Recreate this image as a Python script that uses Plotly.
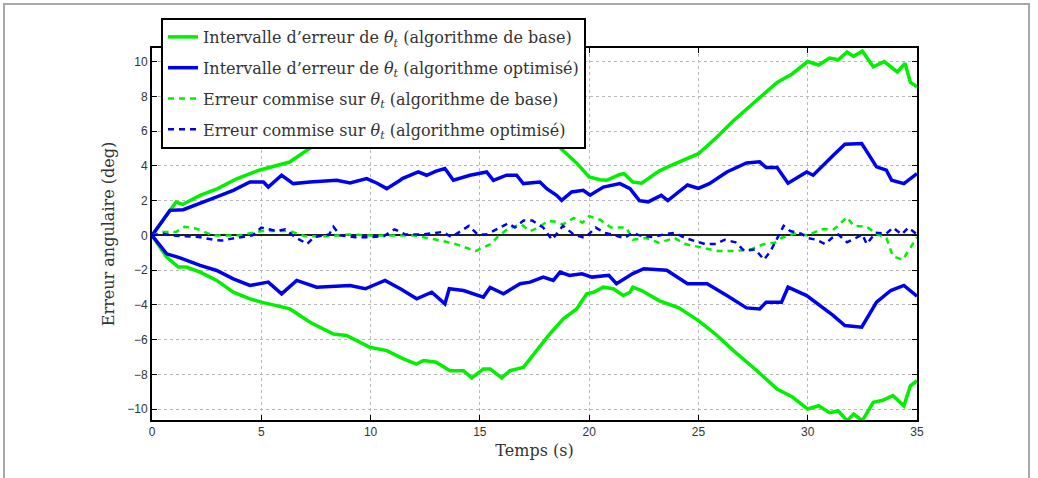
import plotly.graph_objects as go

# ---------------- data ----------------
t_green_up = [0, 0.5, 1.1, 1.4, 2.2, 3.0, 3.9, 4.9, 5.7, 6.3, 7.2, 8.3, 9.0, 10.0, 10.7, 11.5, 12.1,
              12.4, 13.0, 13.6, 14.3, 14.6, 15.2, 15.5, 16.0, 16.4, 17.0, 17.6, 18.2, 18.7, 19.4, 20.0,
              20.5, 20.8, 21.4, 21.6, 22.0, 22.4, 23.2, 23.6, 24.1, 25.0, 25.8, 26.6, 27.6, 28.6, 29.3,
              30.0, 30.5, 31.0, 31.4, 31.8, 32.1, 32.5, 33.0, 33.5, 34.1, 34.45, 34.7, 35.0]
green_up = [0, 0.86, 1.92, 1.78, 2.3, 2.69, 3.27, 3.75, 4.03, 4.22, 5.0, 5.67, 5.76, 6.44, 6.63, 7.1, 7.4,
            7.2, 7.3, 7.78, 7.78, 8.2, 7.68, 7.68, 8.2, 7.78, 7.59, 6.63, 5.67, 5.0, 4.2, 3.36,
            3.2, 3.17, 3.5, 3.55, 3.07, 3.0, 3.7, 3.94, 4.2, 4.7, 5.6, 6.6, 7.7, 8.8, 9.3,
            10.0, 9.8, 10.2, 10.1, 10.55, 10.3, 10.6, 9.7, 10.0, 9.4, 9.9, 8.8, 8.55]

t_green_lo = [0, 0.67, 1.2, 1.58, 2.2, 2.96, 3.72, 4.48, 5.0, 5.86, 6.31, 7.23, 8.3, 8.9, 9.97, 10.74,
              11.5, 12.1, 12.42, 13.0, 13.63, 14.25, 14.63, 15.16, 15.47, 16.0, 16.38, 16.99, 17.6, 18.2,
              18.82, 19.43, 19.89, 20.2, 20.65, 21.1, 21.56, 21.87, 22.0, 22.4, 23.2, 24.1, 25.0, 25.8,
              26.6, 27.6, 28.6, 29.3, 30.0, 30.5, 31.0, 31.4, 31.8, 32.1, 32.5, 33.0, 33.4, 33.9, 34.4,
              34.7, 35.0]
green_lo = [0, -1.25, -1.82, -1.82, -2.11, -2.59, -3.27, -3.65, -3.84, -4.13, -4.23, -5.0, -5.67, -5.76,
            -6.44, -6.63, -7.1, -7.4, -7.2, -7.3, -7.78, -7.78, -8.2, -7.68, -7.68, -8.2, -7.78, -7.59,
            -6.63, -5.67, -4.8, -4.23, -3.36, -3.27, -2.98, -3.07, -3.46, -3.27, -2.98, -3.17, -3.75,
            -4.17, -4.9, -5.7, -6.63, -7.7, -8.84, -9.3, -9.99, -9.8, -10.2, -10.1, -10.66, -10.28,
            -10.66, -9.6, -9.5, -9.22, -9.8, -8.65, -8.36]

t_blue_up = [0, 0.52, 0.82, 1.43, 2.2, 2.96, 3.72, 4.48, 5.1, 5.32, 5.93, 6.46, 7.23, 8.45, 9.06, 9.82,
             10.3, 10.74, 11.35, 11.45, 12.18, 12.56, 13.0, 13.4, 13.79, 14.55, 15.31, 15.62, 16.22,
             16.68, 16.99, 17.75, 18.06, 18.51, 18.74, 19.2, 19.73, 20.04, 20.65, 21.41, 21.87, 22.3,
             22.7, 23.3, 23.6, 24.5, 25.0, 25.5, 26.3, 27.2, 27.8, 28.1, 28.6, 29.1, 29.95, 30.25,
             31.16, 31.7, 32.47, 33.15, 33.6, 33.84, 34.4, 35.0]
blue_up = [0, 0.96, 1.44, 1.48, 1.83, 2.21, 2.59, 3.07, 3.07, 2.78, 3.46, 2.98, 3.07, 3.17, 3.02, 3.27,
           3.0, 2.69, 3.17, 3.27, 3.65, 3.46, 3.7, 3.85, 3.17, 3.46, 3.65, 3.17, 3.46,
           3.46, 2.98, 3.07, 2.69, 2.31, 2.02, 2.5, 2.59, 2.31, 2.78, 2.98, 2.69, 2.0,
           1.93, 2.3, 2.0, 2.9, 2.7, 2.98, 3.65, 4.17, 4.23, 3.9, 3.9, 3.0, 3.65, 3.46,
           4.6, 5.24, 5.28, 3.94, 3.75, 3.17, 2.98, 3.55]

t_blue_lo = [0, 0.67, 1.28, 2.2, 2.96, 3.72, 4.48, 5.32, 5.93, 6.62, 7.53, 9.06, 9.76, 10.66, 11.4,
             12.11, 12.8, 13.4, 13.6, 14.25, 15.16, 15.47, 16.08, 16.84, 17.3, 17.9, 18.36, 18.67, 19.1,
             19.67, 20.13, 20.9, 21.25, 21.5, 22.0, 22.5, 23.55, 24.5, 25.4, 26.3, 27.2, 27.8, 28.1,
             28.8, 29.1, 29.95, 31.16, 31.7, 32.47, 33.15, 33.8, 34.4, 35.0]
blue_lo = [0, -1.06, -1.29, -1.73, -2.02, -2.5, -2.88, -2.69, -3.36, -2.59, -2.98, -2.88, -3.07, -2.59,
           -3.1, -3.65, -3.27, -3.94, -3.07, -3.17, -3.55, -3.0, -3.36, -2.78, -2.69, -2.4, -2.59,
           -2.11, -2.3, -2.21, -2.4, -2.3, -2.78, -2.59, -2.2, -1.92, -2.0, -2.78, -2.78, -3.46,
           -4.17, -4.23, -3.84, -3.84, -2.98, -3.46, -4.6, -5.19, -5.28, -3.84, -3.17, -2.88, -3.5]

t_green_err = [0, 0.5, 1.1, 1.5, 2.0, 2.8, 4.0, 5.0, 5.8, 6.3, 7.0, 8.0, 9.0, 10.0, 11.0, 12.0, 13.2,
               13.9, 14.8, 15.5, 15.8, 16.3, 16.9, 17.3, 17.7, 18.1, 18.4, 18.8, 19.3, 19.7, 20.0,
               20.5, 21.0, 21.7, 22.0, 22.6, 23.2, 23.9, 24.4, 25.1, 25.9, 26.7, 27.4, 28.0, 28.5,
               28.8, 29.4, 30.0, 30.6, 31.2, 31.8, 32.1, 32.7, 33.2, 33.6, 33.9, 34.35, 34.7, 35.0]
green_err = [0, 0.2, 0.2, 0.5, 0.4, 0.0, 0.0, 0.25, 0.25, 0.25, -0.05, -0.05, 0.05, 0.0, 0.0, 0.0, -0.3,
             -0.5, -0.9, -0.5, -0.1, 0.4, 0.63, 0.25, 0.45, 0.83, 0.8, 0.63, 1.0, 0.73, 1.1,
             0.9, 0.45, 0.45, -0.25, -0.15, -0.42, -0.15, -0.5, -0.7, -0.9, -0.9, -0.8, -0.5, -0.42,
             -0.15, 0.1, 0.0, 0.35, 0.35, 1.05, 0.55, 0.5, 0.05, -0.15, -1.2, -1.4, -0.7, -0.1]

t_blue_err = [0, 0.5, 0.9, 1.5, 2.2, 2.8, 3.2, 3.6, 4.1, 4.6, 5.0, 5.4, 5.7, 6.1, 6.6, 6.9, 7.1, 7.4,
              8.1, 8.3, 8.6, 9.3, 10.0, 10.6, 11.1, 11.6, 12.4, 13.3, 13.7, 14.5, 14.9, 15.3, 16.3,
              16.6, 17.0, 17.4, 17.9, 18.3, 18.8, 19.3, 19.8, 20.3, 20.7, 21.2, 21.6, 22.0, 22.3,
              22.9, 23.4, 23.9, 24.4, 24.9, 25.3, 25.8, 26.2, 26.7, 27.1, 27.6, 28.0, 28.3, 28.6,
              28.9, 29.2, 29.7, 30.0, 30.4, 30.8, 31.1, 31.4, 31.8, 32.2, 32.5, 32.7, 33.1, 33.6,
              33.9, 34.3, 34.6, 35.0]
blue_err = [0, 0.1, 0.0, -0.05, -0.1, -0.25, -0.3, -0.2, -0.1, 0.0, 0.45, 0.35, 0.25, 0.35, -0.15,
            -0.35, -0.5, -0.1, 0.05, 0.5, 0.0, -0.1, -0.1, -0.05, 0.35, 0.05, 0.05, 0.2, -0.1, 0.55,
            0.05, 0.05, 0.7, 0.45, 0.85, 0.85, 0.45, -0.25, 0.55, 0.05, -0.15, 0.45, 0.15, 0.0,
            -0.15, 0.15, 0.0, -0.1, 0.05, 0.15, -0.15, -0.35, -0.5, -0.5, -0.25, -0.4, -0.9, -0.8,
            -1.4, -0.9, -0.15, 0.55, 0.25, 0.1, -0.15, -0.25, -0.5, -0.15, 0.05, -0.4, -0.15, 0.05,
            -0.5, 0.15, 0.1, 0.45, 0.05, 0.45, 0.05]

legend_names = [
    "Intervalle d\u2019erreur de <i>\u03b8</i><sub><i>t</i></sub> (algorithme de base)",
    "Intervalle d\u2019erreur de <i>\u03b8</i><sub><i>t</i></sub> (algorithme optimis\u00e9)",
    "Erreur commise sur <i>\u03b8</i><sub><i>t</i></sub> (algorithme de base)",
    "Erreur commise sur <i>\u03b8</i><sub><i>t</i></sub> (algorithme optimis\u00e9)",
]
x_ticks = [0, 5, 10, 15, 20, 25, 30, 35]
y_ticks = [-10, -8, -6, -4, -2, 0, 2, 4, 6, 8, 10]

GREEN = "#00f000"
BLUE = "#0000f0"
SERIF = "DejaVu Serif, Liberation Serif, serif"
SANS = "Liberation Sans, Arial, sans-serif"

fig = go.Figure()
fig.add_trace(go.Scatter(x=t_green_up, y=green_up, mode="lines", name=legend_names[0],
                         legendgroup="g1", line=dict(color=GREEN, width=3.5)))
fig.add_trace(go.Scatter(x=t_green_lo, y=green_lo, mode="lines", name=legend_names[0],
                         legendgroup="g1", showlegend=False, line=dict(color=GREEN, width=3.5)))
fig.add_trace(go.Scatter(x=t_blue_up, y=blue_up, mode="lines", name=legend_names[1],
                         legendgroup="g2", line=dict(color=BLUE, width=3.5)))
fig.add_trace(go.Scatter(x=t_blue_lo, y=blue_lo, mode="lines", name=legend_names[1],
                         legendgroup="g2", showlegend=False, line=dict(color=BLUE, width=3.5)))
fig.add_trace(go.Scatter(x=t_green_err, y=green_err, mode="lines", name=legend_names[2],
                         legendgroup="g3", line=dict(color=GREEN, width=2.5, dash="6px,5px")))
fig.add_trace(go.Scatter(x=t_blue_err, y=blue_err, mode="lines", name=legend_names[3],
                         legendgroup="g4", line=dict(color=BLUE, width=2.5, dash="6px,5px")))

L, R, T, B = 152, 917, 48, 420
W, H = 1038, 478
pw, ph = R - L, B - T

fig.update_layout(
    width=W, height=H,
    margin=dict(l=L, r=W - R, t=T, b=H - B, pad=0),
    paper_bgcolor="white", plot_bgcolor="white",
    showlegend=True,
    legend=dict(x=(161 - L) / pw, y=(B - 18) / ph, xanchor="left", yanchor="top",
                bgcolor="white", bordercolor="black", borderwidth=2,
                font=dict(family=SERIF, size=16, color="#333"),
                traceorder="grouped", tracegroupgap=7),
    xaxis=dict(range=[0, 35], tickvals=x_ticks, ticks="inside", ticklen=5, tickwidth=1,
               tickcolor="black", showline=True, linecolor="black", linewidth=2, mirror="ticks",
               showgrid=True, gridcolor="#b8b8b8", griddash="dot", gridwidth=1, zeroline=False,
               tickfont=dict(family=SANS, size=12, color="#333"),
               title=dict(text="Temps (s)", font=dict(family=SERIF, size=16, color="#333"), standoff=6)),
    yaxis=dict(range=[-10.62, 10.78], tickvals=y_ticks, ticks="inside", ticklen=5, tickwidth=1,
               tickcolor="black", showline=True, linecolor="black", linewidth=2, mirror="ticks",
               showgrid=True, gridcolor="#b8b8b8", griddash="dot", gridwidth=1,
               zeroline=True, zerolinecolor="#222", zerolinewidth=1.5,
               tickfont=dict(family=SANS, size=12, color="#333"),
               title=dict(text="Erreur angulaire (deg)", font=dict(family=SERIF, size=16, color="#333"),
                          standoff=9)),
    shapes=[dict(type="rect", xref="paper", yref="paper",
                 x0=(4 - L) / pw, x1=(1029 - L) / pw, y0=(B - 500) / ph, y1=(B - 4) / ph,
                 line=dict(color="#a8a8a8", width=2), fillcolor="rgba(0,0,0,0)", layer="below")],
)

fig.write_html("out.html")
